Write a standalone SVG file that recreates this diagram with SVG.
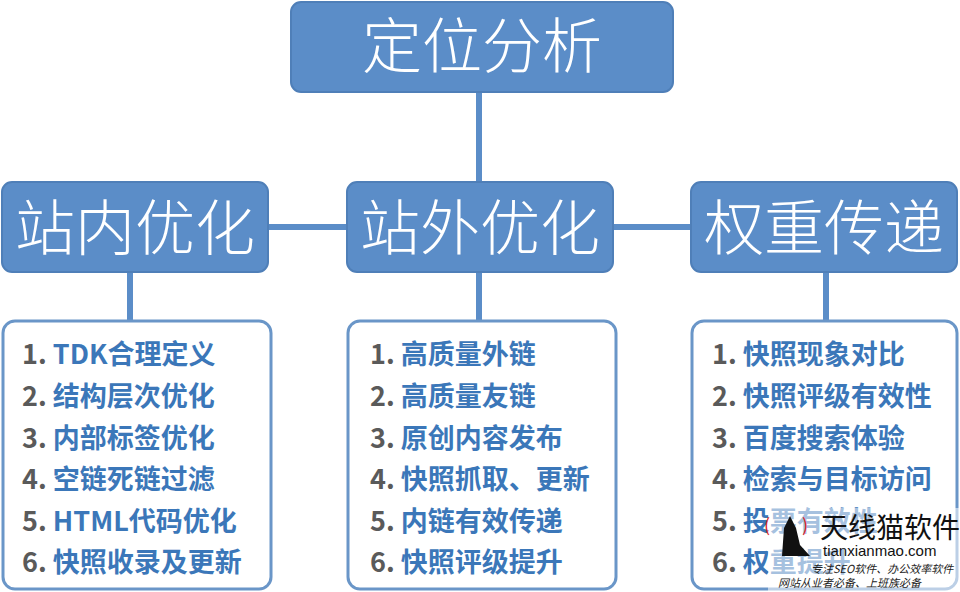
<svg xmlns="http://www.w3.org/2000/svg" width="960" height="592" viewBox="0 0 960 592">
<style>
.hb{fill:#5b8dc8;stroke:#4f7fb8;stroke-width:2}
.ht{fill:#fff;font-family:"Noto Sans CJK SC",sans-serif;font-weight:300;text-anchor:middle}
.lb{fill:#fff;stroke:#6a96c8;stroke-width:3}
.li{font-family:"Noto Sans CJK SC",sans-serif;font-weight:700;font-size:27px;fill:#3b77b9}
.n{fill:#5a5a5a}
.c{stroke:#5b8dc8;stroke-width:6;fill:none}
</style>
<rect width="960" height="592" fill="#fff"/>
<g id="connectors">
<line class="c" x1="479" y1="92" x2="479" y2="184"/>
<line class="c" x1="268" y1="227" x2="692" y2="227"/>
<line class="c" x1="130" y1="272" x2="130" y2="321"/>
<line class="c" x1="479" y1="272" x2="479" y2="321"/>
<line class="c" x1="826" y1="272" x2="826" y2="321"/>
</g>
<g id="top"><rect class="hb" x="291" y="2" width="382" height="90" rx="10"/><text class="ht" x="482" y="68" font-size="60">定位分析</text></g>
<g id="n1"><rect class="hb" x="2" y="182" width="266" height="90" rx="10"/><text class="ht" x="135" y="250" font-size="60">站内优化</text></g>
<g id="n2"><rect class="hb" x="347" y="182" width="266" height="90" rx="10"/><text class="ht" x="480" y="250" font-size="60">站外优化</text></g>
<g id="n3"><rect class="hb" x="691" y="182" width="266" height="90" rx="10"/><text class="ht" x="824" y="250" font-size="60">权重传递</text></g>
<g id="l1"><rect class="lb" x="3" y="321" width="268" height="268" rx="12"/>
<text class="li"><tspan x="22" y="364"><tspan class="n">1. </tspan>TDK合理定义</tspan><tspan x="22" y="406"><tspan class="n">2. </tspan>结构层次优化</tspan><tspan x="22" y="448"><tspan class="n">3. </tspan>内部标签优化</tspan><tspan x="22" y="489"><tspan class="n">4. </tspan>空链死链过滤</tspan><tspan x="22" y="531"><tspan class="n">5. </tspan>HTML代码优化</tspan><tspan x="22" y="572"><tspan class="n">6. </tspan>快照收录及更新</tspan></text></g>
<g id="l2"><rect class="lb" x="348" y="321" width="268" height="268" rx="12"/>
<text class="li"><tspan x="370" y="364"><tspan class="n">1. </tspan>高质量外链</tspan><tspan x="370" y="406"><tspan class="n">2. </tspan>高质量友链</tspan><tspan x="370" y="448"><tspan class="n">3. </tspan>原创内容发布</tspan><tspan x="370" y="489"><tspan class="n">4. </tspan>快照抓取、更新</tspan><tspan x="370" y="531"><tspan class="n">5. </tspan>内链有效传递</tspan><tspan x="370" y="572"><tspan class="n">6. </tspan>快照评级提升</tspan></text></g>
<g id="l3"><rect class="lb" x="692" y="321" width="265" height="268" rx="12"/>
<text class="li"><tspan x="712" y="364"><tspan class="n">1. </tspan>快照现象对比</tspan><tspan x="712" y="406"><tspan class="n">2. </tspan>快照评级有效性</tspan><tspan x="712" y="448"><tspan class="n">3. </tspan>百度搜索体验</tspan><tspan x="712" y="489"><tspan class="n">4. </tspan>检索与目标访问</tspan><tspan x="712" y="531"><tspan class="n">5. </tspan>投票有效性</tspan><tspan x="712" y="572"><tspan class="n">6. </tspan>权重提升</tspan></text></g>
<g id="watermark" font-family="Noto Sans CJK SC,sans-serif">
<rect x="768" y="508" width="192" height="84" fill="#fff" opacity="0.55"/>
<path d="M782 556 L784 528 L790 516 L796 528 L800 545 L810 556 Z" fill="#111"/>
<text x="764" y="532" font-size="18" fill="#d22">(</text><text x="802" y="532" font-size="18" fill="#d22">)</text>
<text x="820" y="538" font-size="28" fill="#111">天线猫软件</text>
<text x="823" y="556" font-size="15" fill="#111" font-family="Liberation Sans,sans-serif">tianxianmao.com</text>
<text x="811" y="573" font-size="11" font-style="italic" fill="#222">专注SEO软件、办公效率软件</text>
<text x="778" y="587" font-size="11" font-style="italic" fill="#222">网站从业者必备、上班族必备</text>
</g>
</svg>
